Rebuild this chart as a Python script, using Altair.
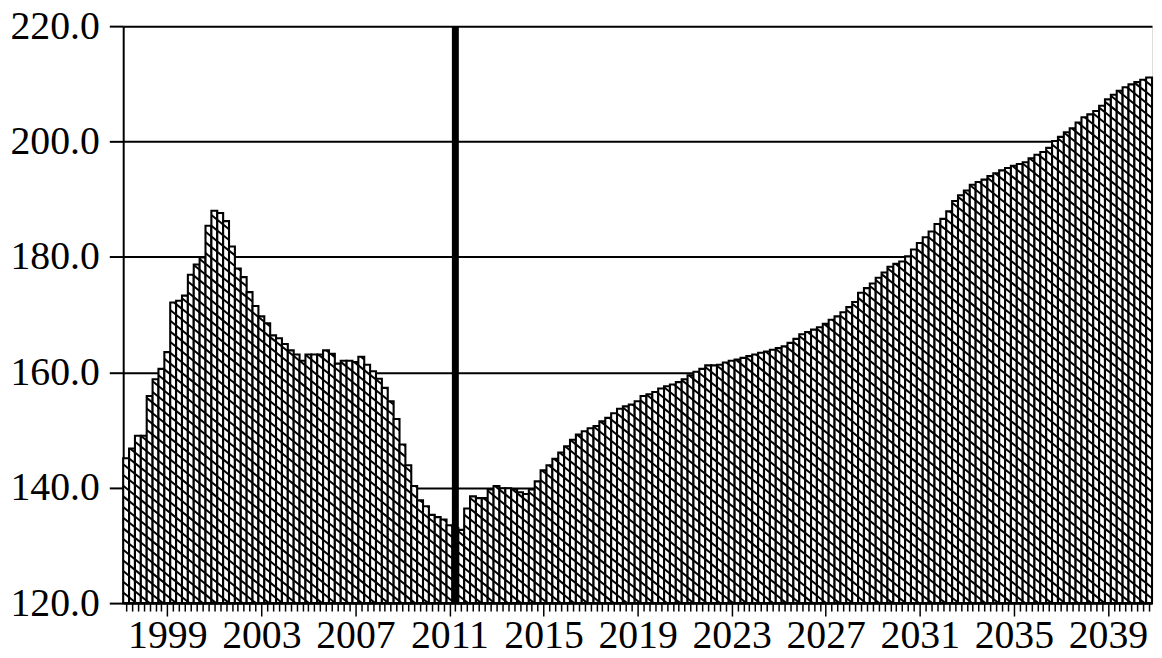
import altair as alt
import pandas as pd

# ---------------- data ----------------
first_year, first_q = 1997, 2          # first bar = 1997Q2
values = [
    145.1, 146.8, 149.0, 149.0, 155.9, 158.8, 160.6, 163.5, 172.1, 172.4,
    173.3, 176.9, 178.7, 179.9, 185.4, 188.0, 187.6, 186.2, 181.8, 178.0,
    176.5, 173.9, 171.5, 169.7, 168.5, 166.4, 165.9, 164.9, 163.8, 163.1,
    162.0, 163.1, 163.1, 163.1, 163.8, 163.2, 161.5, 162.0, 162.0, 161.8,
    162.7, 161.3, 160.2, 158.9, 157.3, 155.0, 151.9, 147.5, 143.9, 140.3,
    137.8, 136.8, 135.3, 134.9, 134.5, 133.5, 133.0, 132.7, 136.4, 138.5,
    138.2, 138.2, 139.7, 140.3, 139.9, 139.9, 139.7, 139.2, 138.9, 139.7,
    141.1, 143.0, 143.9, 145.0, 146.1, 147.2, 148.3, 149.2, 149.8, 150.3,
    150.7, 151.5, 152.1, 152.9, 153.7, 154.1, 154.4, 155.0, 155.9, 156.2,
    156.6, 157.2, 157.6, 157.9, 158.3, 158.8, 159.5, 160.1, 160.6, 161.2,
    161.2, 161.3, 161.7, 162.0, 162.2, 162.5, 162.8, 163.1, 163.4, 163.6,
    163.9, 164.2, 164.5, 165.1, 165.8, 166.6, 167.0, 167.4, 167.8, 168.4,
    169.1, 169.7, 170.4, 171.3, 172.2, 173.8, 174.6, 175.4, 176.4, 177.3,
    178.3, 178.8, 179.2, 180.1, 181.3, 182.4, 183.4, 184.4, 185.7, 186.6,
    187.9, 189.7, 190.7, 191.5, 192.5, 193.0, 193.4, 194.0, 194.5, 195.0,
    195.4, 195.8, 196.1, 196.4, 197.1, 197.7, 198.2, 198.9, 200.1, 200.8,
    201.6, 202.3, 203.3, 204.2, 204.7, 205.3, 206.2, 207.3, 208.1, 208.8,
    209.4, 209.9, 210.3, 210.7, 211.1,
]
quarters = []
y, q = first_year, first_q
for _ in values:
    quarters.append(f"{y}Q{q}")
    q += 1
    if q > 4:
        q, y = 1, y + 1
forecast_start = "2011Q2"
y_ticks = [120, 140, 160, 180, 200, 220]
label_every_years = 4
first_label_year = 1999

# ---------------- tables ----------------
n = len(values)
bars = pd.DataFrame({
    "quarter": quarters,
    "idx": list(range(n)),
    "value": values,
})
bars["x0"] = bars["idx"] - 0.5
bars["x1"] = bars["idx"] + 0.5

# diagonal hatch inside every bar (pattern derived from each bar's value)
BASE = y_ticks[0]
SLOPE = 0.82     # drop per bar, in value units
SPACING = 1.85   # vertical distance between hatch lines, in value units
hatch = []
for i, v in enumerate(values):
    k = 0
    while True:
        c = BASE + k * SPACING
        ya = c - SLOPE * i
        yb = ya - SLOPE
        k += 1
        if yb >= v:
            break
        if ya <= BASE:
            continue
        xa, xb = i - 0.5, i + 0.5
        ya_c, yb_c = ya, yb
        if ya > v:
            xa = i - 0.5 + (ya - v) / SLOPE
            ya_c = v
        if yb < BASE:
            xb = i - 0.5 + (ya - BASE) / SLOPE
            yb_c = BASE
        hatch.append({"xa": xa, "xb": xb, "ya": ya_c, "yb": yb_c})
hatch = pd.DataFrame(hatch)

marker = pd.DataFrame({"idx": [quarters.index(forecast_start)]})

# index of the first labelled quarter (Q1 of first_label_year)
first_major = quarters.index(f"{first_label_year}Q1")
period = 4 * label_every_years

# ---------------- chart ----------------
FONT = "Liberation Serif, Times New Roman, Times, serif"
xscale = alt.Scale(domain=[-0.5, n - 0.5], nice=False, zero=False)
yscale = alt.Scale(domain=[y_ticks[0], y_ticks[-1]], nice=False, zero=False)

major_test = f"datum.value % {period} === {first_major % period}"
x_axis = alt.Axis(
    values=list(range(n)),
    title=None,
    grid=False,
    tickSize={"condition": {"test": major_test, "value": 13}, "value": 8},
    tickWidth=1.5,
    tickColor="black",
    domainColor="black",
    domainWidth=2,
    labelExpr=f"{major_test} ? toString({first_label_year} + (datum.value - {first_major}) / 4) : ''",
    labelOverlap=False,
    labelFlush=False,
    labelFont=FONT,
    labelFontSize=40,
    labelColor="black",
    labelPadding=0,
)
y_axis = alt.Axis(
    values=y_ticks,
    format=".1f",
    title=None,
    grid=True,
    gridColor="black",
    gridWidth=2,
    gridOpacity=1,
    tickSize=14,
    tickWidth=2,
    tickColor="black",
    domainColor="black",
    domainWidth=2,
    labelFont=FONT,
    labelFontSize=40,
    labelColor="black",
    labelPadding=10,
)

bar_layer = alt.Chart(bars).mark_rect(
    fill="white", stroke="black", strokeWidth=2.1
).encode(
    x=alt.X("x0:Q", scale=xscale, axis=x_axis),
    x2="x1:Q",
    y=alt.Y("value:Q", scale=yscale, axis=y_axis),
    y2=alt.datum(BASE),
)

hatch_layer = alt.Chart(hatch).mark_rule(
    color="black", strokeWidth=2.0
).encode(
    x=alt.X("xa:Q", scale=xscale, axis=x_axis),
    x2="xb:Q",
    y=alt.Y("ya:Q", scale=yscale, axis=y_axis),
    y2="yb:Q",
)

line_layer = alt.Chart(marker).mark_rule(
    color="black", strokeWidth=7
).encode(
    x=alt.X("idx:Q", scale=xscale, axis=x_axis),
    y=alt.datum(y_ticks[0]),
    y2=alt.datum(y_ticks[-1]),
)

chart = alt.layer(bar_layer, hatch_layer, line_layer).properties(
    width=1036,
    height=581,
    autosize=alt.AutoSizeParams(type="none"),
    padding={"left": 116, "top": 16, "right": 2, "bottom": 52},
).configure_view(
    stroke="#666", strokeWidth=1
).configure(background="white")

chart.save("out.html", embed_options={"renderer": "svg", "actions": False})
